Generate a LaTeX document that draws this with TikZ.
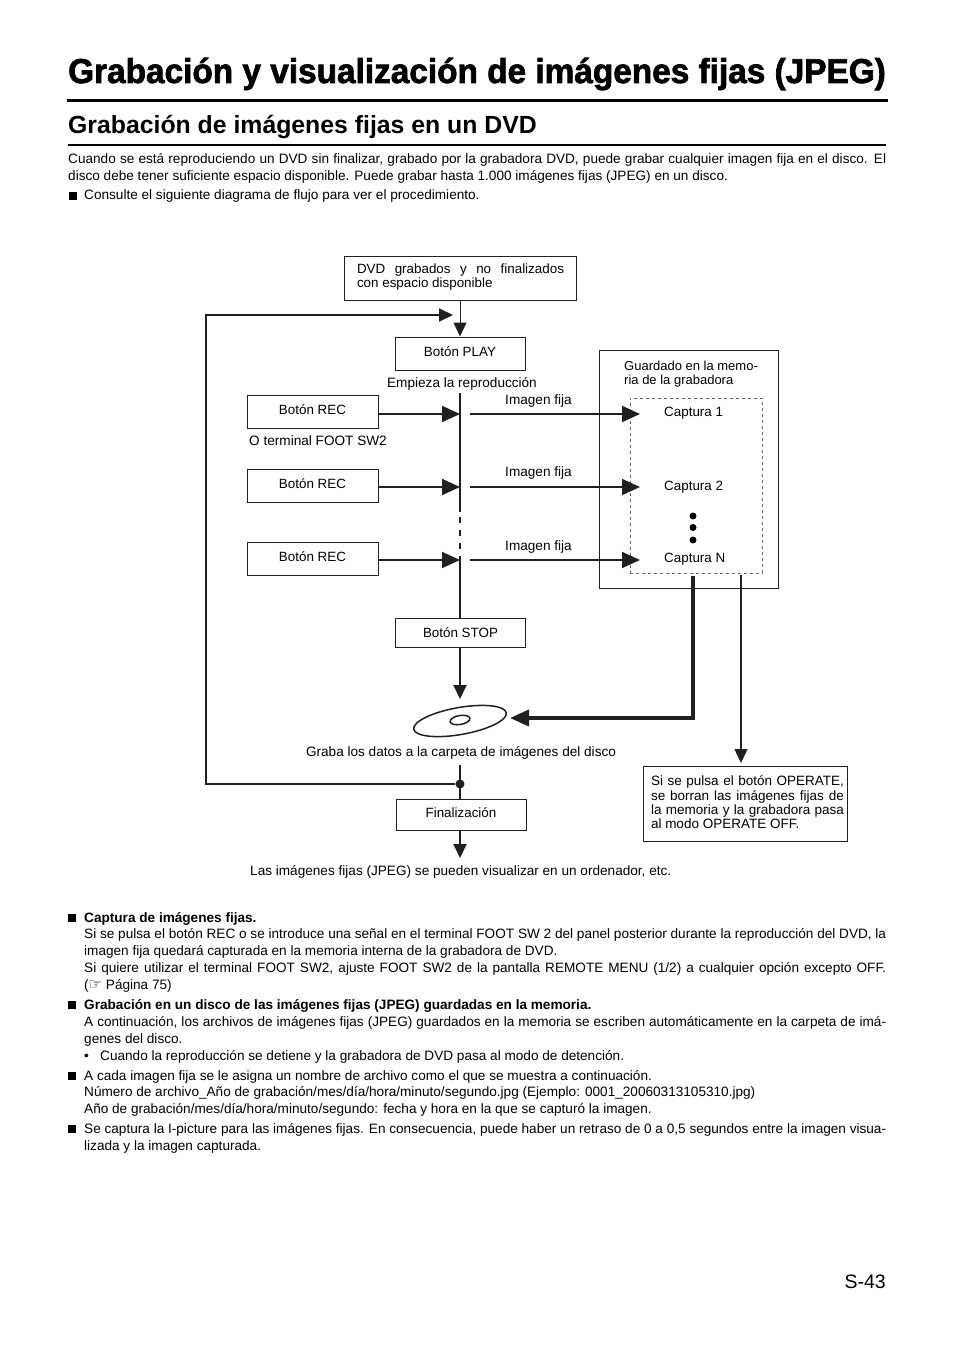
\documentclass[tikz,border=0pt]{standalone}
\usepackage{fontspec}
\setmainfont{Liberation Sans}
\newfontfamily\titlefont[BoldFeatures={FakeBold=2,FakeStretch=0.967}]{Liberation Sans}
\newfontfamily\symbfont{DejaVu Sans}
\usetikzlibrary{arrows.meta,shapes.geometric}
\definecolor{ink}{HTML}{231F20}
\tikzstyle{block} = [rectangle, draw=ink, line width=1pt, inner sep=0pt, font=\fontsize{13.4}{14}\selectfont, text height=9.5pt, text depth=4pt]
\tikzstyle{tag} = [inner sep=0pt, font=\fontsize{13.6}{14}\selectfont]
\tikzstyle{body} = [inner sep=0pt, anchor=north west, align=justify, font=\fontsize{13.6}{16.8}\selectfont]
\tikzstyle{square} = [rectangle, fill=black, inner sep=0pt, minimum size=8pt]
\tikzstyle{ball} = [circle, fill=black, inner sep=0pt, minimum size=7pt]
\tikzstyle{line} = [draw=ink, line width=1.6pt, -{Triangle[length=18pt,width=16pt]}]
\tikzstyle{smallline} = [draw=ink, line width=1.6pt, -{Triangle[length=14pt,width=13pt]}]
\begin{document}
\begin{tikzpicture}[x=1pt, y=-1pt]
	\useasboundingbox (0,0) rectangle (954,1351);
	% Headings
	\node [inner sep=0pt, anchor=base west, font=\titlefont\bfseries\fontsize{34.5}{36}\selectfont] (title) at (68,83) {Grabación y visualización de imágenes fijas (JPEG)};
	\coordinate (titleleft) at (67,101);
	\coordinate (titleright) at (888,101);
	\draw [line width=3pt] (titleleft) -- (titleright);
	\node [inner sep=0pt, anchor=base west, font=\bfseries\fontsize{24.8}{26}\selectfont] (section) at (68,134) {Grabación de imágenes fijas en un DVD};
	\coordinate (sectionleft) at (68,145);
	\coordinate (sectionright) at (886,145);
	\draw [line width=1.7pt] (sectionleft) -- (sectionright);
	% Introduction
	\node [body, text width=818pt] (intro) at (68,151.5) {\strut Cuando se está reproduciendo un DVD sin finalizar, grabado por la grabadora DVD, puede grabar cualquier imagen fija en el disco. El\linebreak disco debe tener suficiente espacio disponible. Puede grabar hasta 1.000 imágenes fijas (JPEG) en un disco.};
	\node [square] (introbullet) at (73,196) {};
	\node [tag, anchor=base west] (introline) at (84,200) {Consulte el siguiente diagrama de flujo para ver el procedimiento.};
	% Place nodes
	\node [block, align=justify, text height=, text depth=, minimum width=232.5pt, minimum height=44pt, text width=207pt] (dvd) at (460.5,278) {\strut DVD grabados y no finalizados\linebreak con espacio disponible\strut};
	\node [block, minimum width=130pt, minimum height=33pt] (play) at (460,353.5) {Botón PLAY};
	\node [tag, anchor=base] (start) at (462,387) {Empieza la reproducción};
	\foreach \name/\yy in {recone/411.5,rectwo/485.5,recthree/558.5}
		\node [block, minimum width=131pt, minimum height=33pt] (\name) at (312.5,\yy) {Botón REC};
	\node [tag, anchor=base west] (foot) at (249,445) {O terminal FOOT SW2};
	\foreach \name/\yy in {imgone/404,imgtwo/476,imgthree/550}
		\node [tag, anchor=base] (\name) at (538.5,\yy) {Imagen fija};
	\node [block, minimum width=179.5pt, minimum height=238pt, text height=, text depth=] (memory) at (689,469) {};
	\node [tag, anchor=north west, align=left, font=\fontsize{13}{14}\selectfont] (memtext) at (624,360.2) {\strut Guardado en la memo-\\ria de la grabadora};
	\node [draw=ink!70, dash pattern=on 3pt off 3pt, line width=.8pt, inner sep=0pt, minimum width=132pt, minimum height=175pt] (captures) at (696,485.5) {};
	\node [tag, anchor=base west, font=\fontsize{13.4}{14}\selectfont] (capone) at (664,416) {Captura 1};
	\node [tag, anchor=base west, font=\fontsize{13.4}{14}\selectfont] (captwo) at (664,490) {Captura 2};
	\node [tag, anchor=base west, font=\fontsize{13.4}{14}\selectfont] (capn) at (664,562) {Captura N};
	\node [ball] (dotone) at (693,516) {};
	\node [ball] (dottwo) at (693,527.5) {};
	\node [ball] (dotthree) at (693,540) {};
	\node [block, minimum width=130pt, minimum height=29pt, text depth=.5pt] (stop) at (460.5,632.5) {Botón STOP};
	\node [ellipse, draw=ink, line width=1.5pt, inner sep=0pt, minimum width=94pt, minimum height=27pt, rotate=10] (disc) at (460,721) {};
	\node [ellipse, draw=ink, line width=1.5pt, inner sep=0pt, minimum width=20pt, minimum height=9pt, rotate=10] (hole) at (460,720) {};
	\node [tag, anchor=base] (burn) at (461,756) {Graba los datos a la carpeta de imágenes del disco};
	\node [circle, fill=ink, inner sep=0pt, minimum size=9pt] (branch) at (460,784) {};
	\node [block, minimum width=130pt, minimum height=31pt] (final) at (461,814.5) {Finalización};
	\node [tag, anchor=base west] (view) at (250,875) {Las imágenes fijas (JPEG) se pueden visualizar en un ordenador, etc.};
	\node [block, minimum width=204.5pt, minimum height=75pt, text height=, text depth=] (note) at (745.5,803.5) {};
	\node [inner sep=0pt, align=justify, text width=193pt, font=\fontsize{13.5}{14.2}\selectfont] (notetext) at (747.5,804) {\strut Si se pulsa el botón OPERATE,\linebreak se borran las imágenes fijas de\linebreak la memoria y la grabadora pasa\linebreak al modo OPERATE OFF.\strut};
	% Free ends of the edges
	\coordinate (loopend) at (453,315);
	\coordinate (loopup) at (206,315);
	\coordinate (loopdown) at (206,784);
	\coordinate (playout) at (460,393);
	\coordinate (stopin) at (460,618);
	\coordinate (discin) at (460,699);
	\coordinate (discright) at (510,718);
	\coordinate (bend) at (693,718);
	\coordinate (memout) at (693,576);
	\coordinate (eraseout) at (741,575);
	\coordinate (erasein) at (741,763);
	\coordinate (burnout) at (460,765);
	\coordinate (viewin) at (460,858);
	\foreach \name/\yy/\lw in {recone/414/2.2pt,rectwo/487/1.6pt,recthree/560/1.6pt} {
		\coordinate (\name hit) at (460,\yy);
		\coordinate (\name out) at (470,\yy);
		\coordinate (\name mem) at (640,\yy);
		\coordinate (\name box) at (378,\yy);
		% Draw edges
		\path [line, line width=\lw] (\name box) -- (\name hit);
		\path [line, line width=\lw] (\name out) -- (\name mem);
	}
	\path [smallline, line width=1pt] (dvd.south -| discin) -- (play.north -| discin);
	\draw [draw=ink, line width=2.2pt, dash pattern=on 119pt off 5pt on 6pt off 7pt on 6pt off 7pt on 6pt off 7pt on 62pt] (playout) -- (stopin);
	\path [smallline, line width=2pt] (stop.south -| discin) -- (discin);
	\path [line, line width=3.6pt, -{Triangle[length=19pt,width=16pt]}] (memout) -- (bend) -- (discright);
	\path [smallline, line width=1.3pt] (eraseout) -- (erasein);
	\draw [draw=ink, line width=2.2pt] (burnout) -- (final.north -| burnout);
	\path [smallline, line width=1.8pt] (branch) -- (loopdown) -- (loopup) -- (loopend);
	\path [smallline, line width=2pt] (final.south -| viewin) -- (viewin);
	% Notes below the chart
	\node [square] (noteone) at (72,918) {};
	\node [body, text width=802pt] (capturing) at (84,910.2) {\strut\textbf{Captura de imágenes fijas.}\\Si se pulsa el botón REC o se introduce una señal en el terminal FOOT SW 2 del panel posterior durante la reproducción del DVD, la\linebreak imagen fija quedará capturada en la memoria interna de la grabadora de DVD.\\Si quiere utilizar el terminal FOOT SW2, ajuste FOOT SW2 de la pantalla REMOTE MENU (1/2) a cualquier opción excepto OFF.\linebreak ({\symbfont\fontsize{15}{10}\selectfont ☞} Página 75)};
	\node [square] (notetwo) at (72,1005) {};
	\node [body, text width=802pt] (burning) at (84,997.5) {\strut\textbf{Grabación en un disco de las imágenes fijas (JPEG) guardadas en la memoria.}\\A continuación, los archivos de imágenes fijas (JPEG) guardados en la memoria se escriben automáticamente en la carpeta de imá-\linebreak genes del disco.};
	\node [tag, anchor=base west] (subbullet) at (84,1060) {•};
	\node [tag, anchor=base west] (subline) at (100,1060) {Cuando la reproducción se detiene y la grabadora de DVD pasa al modo de detención.};
	\node [square] (notethree) at (72,1076) {};
	\node [body, text width=802pt] (naming) at (84,1068.2) {\strut A cada imagen fija se le asigna un nombre de archivo como el que se muestra a continuación.\\Número de archivo\_Año de grabación/mes/día/hora/minuto/segundo.jpg (Ejemplo: 0001\_20060313105310.jpg)\\Año de grabación/mes/día/hora/minuto/segundo: fecha y hora en la que se capturó la imagen.};
	\node [square] (notefour) at (72,1129) {};
	\node [body, text width=802pt] (delay) at (84,1121.5) {\strut Se captura la I-picture para las imágenes fijas. En consecuencia, puede haber un retraso de 0 a 0,5 segundos entre la imagen visua-\linebreak lizada y la imagen capturada.};
	\node [inner sep=0pt, anchor=base east, font=\fontsize{19.5}{21}\selectfont] (page) at (886,1288) {S-43};
\end{tikzpicture}
\end{document}
